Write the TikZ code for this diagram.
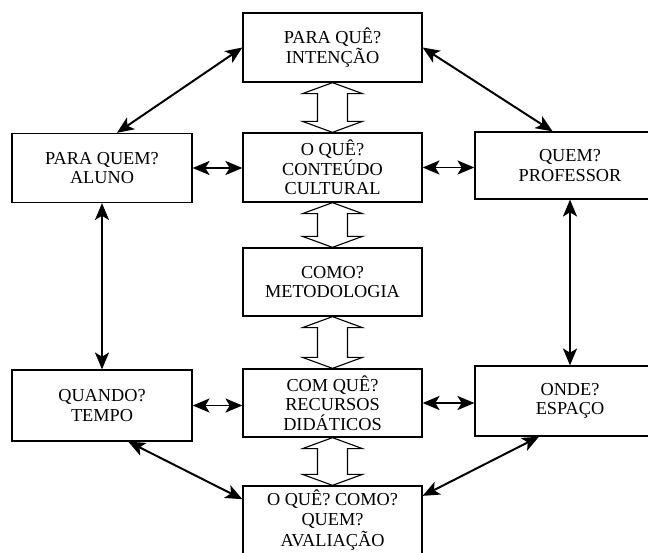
\documentclass[tikz,border=0pt]{standalone}
\usepackage{fontspec}
\setmainfont{Liberation Serif}
\usepackage{tikz}
\usetikzlibrary{arrows.meta, calc}

\begin{document}
\begin{tikzpicture}[x=0.025cm, y=-0.025cm, <->, >={Stealth[length=12pt,width=10pt,inset=3pt]}]
    \tikzstyle{box} = [draw, line width=0.9pt, text centered, align=center, inner sep=2pt,
        minimum width=4.475cm, minimum height=1.725cm, font=\fontsize{13}{13.8}\selectfont]
    \tikzstyle{link} = [line width=1.4pt]
    \tikzstyle{hollow} = [draw, line width=0.8pt, -]
    \useasboundingbox (0,0) rectangle (648,552);
    \clip (0,0) rectangle (648,552);

    % middle column
    \node [box] at (332.5,47.5) (intencao) {PARA QUÊ?\\INTENÇÃO};
    \node [box] at (332.5,167.5) (conteudo) {O QUÊ?\\CONTEÚDO\\CULTURAL};
    \node [box, minimum height=1.7cm] at (332.5,282) (metodologia) {COMO?\\METODOLOGIA};
    \node [box, minimum height=1.7cm] at (332.5,403) (recursos) {COM QUÊ?\\RECURSOS\\DIDÁTICOS};
    \node [box, minimum height=1.7cm, font=\fontsize{13}{14.5}\selectfont] at (332.5,520) (avaliacao) {O QUÊ? COMO?\\QUEM?\\AVALIAÇÃO};

    % side columns
    \node [box, minimum width=4.5cm] at (102,168) (aluno) {PARA QUEM?\\ALUNO};
    \node [box, minimum width=4.5cm, minimum height=1.775cm] at (102,405.5) (tempo) {QUANDO?\\TEMPO};
    \node [box, minimum width=4.75cm, minimum height=1.675cm] at (570,165.5) (professor) {QUEM?\\PROFESSOR};
    \node [box, minimum width=4.75cm, minimum height=1.75cm] at (570,401) (espaco) {ONDE?\\ESPAÇO};

    % open double arrows down the middle
    \foreach \a/\b in {intencao/conteudo, conteudo/metodologia, metodologia/recursos, recursos/avaliacao}
        \draw[hollow] (\a.south) -- ++(-30,11) -- ++(15,0) -- ($(\b.north)+(-15,-11)$) -- ++(-15,0)
            -- (\b.north) -- ++(30,-11) -- ++(-15,0) -- ($(\a.south)+(15,11)$) -- ++(15,0) -- cycle;

    \draw[link] (intencao.west) to (aluno.67);
    \draw[link] (intencao.east) to (professor.117);
    \draw[link] (aluno.south) to (tempo.north);
    \draw[link] (professor.south) to (espaco.north);
    \draw[link] (tempo.-54) to (avaliacao.167);
    \draw[link] (espaco.229) to (avaliacao.15);

    \draw[link] (aluno.east) to (aluno.east -| conteudo.west);
    \draw[link] (conteudo.east) to (conteudo.east -| professor.west);
    \draw[link] (tempo.east) to (tempo.east -| recursos.west);
    \draw[link] (recursos.east) to (recursos.east -| espaco.west);
\end{tikzpicture}
\end{document}
